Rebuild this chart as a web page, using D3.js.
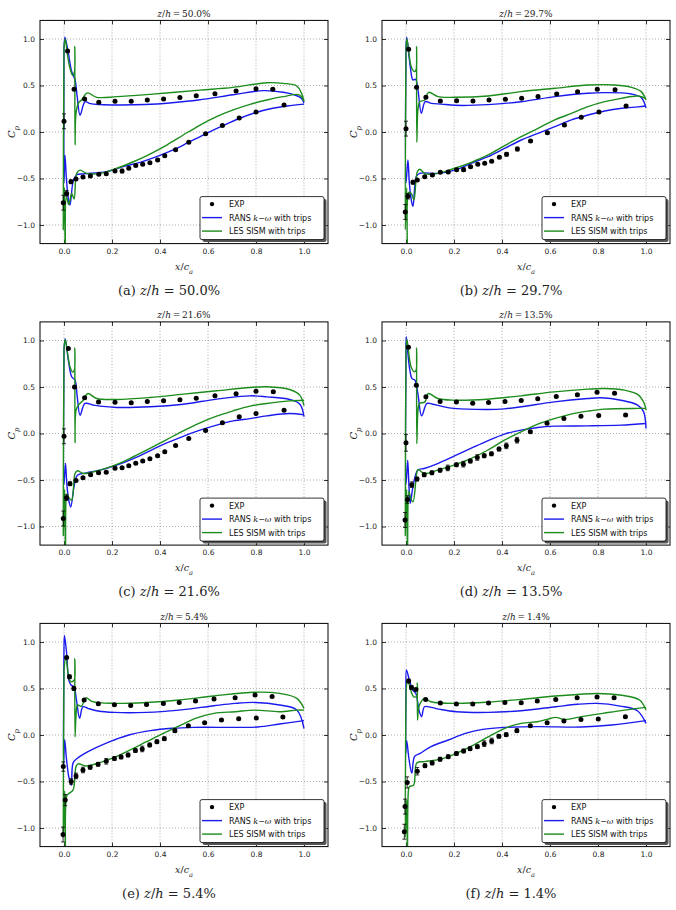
<!DOCTYPE html>
<html>
<head>
<meta charset="utf-8">
<script src="https://cdn.jsdelivr.net/npm/d3@7"></script>
<style>
body { margin: 0; background: #fff; }
.tick text { font-family: "DejaVu Sans", sans-serif; font-size: 7.5px; fill: #222; }
.serif { font-family: "DejaVu Serif", "Liberation Serif", serif; fill: #222; }
.leg { font-family: "DejaVu Sans", sans-serif; font-size: 8px; fill: #111; }
</style>
</head>
<body>
<script>
// panel labels
var panelLetters = ["(a)", "(b)", "(c)", "(d)", "(e)", "(f)"];
var panelHeights = ["50.0", "29.7", "21.6", "13.5", "5.4", "1.4"];
var xTicks = [0, 0.2, 0.4, 0.6, 0.8, 1.0];
var yTicks = [-1.0, -0.5, 0.0, 0.5, 1.0];

// EXP points [x/c, Cp, error], pressure side (upper branch)
var expPressure = [
  [[0.015,0.87,0.01],[0.042,0.46,0.01],[0.086,0.355,0.01],[0.145,0.32,0.01],[0.2125,0.33,0.01],[0.28,0.33,0.01],[0.347,0.344,0.01],[0.415,0.355,0.01],[0.483,0.37,0.01],[0.551,0.39,0.01],[0.629,0.41,0.01],[0.717,0.44,0.01],[0.80,0.465,0.01],[0.87,0.46,0.01]],
  [[0.011,0.89,0.01],[0.044,0.48,0.01],[0.083,0.373,0.01],[0.143,0.333,0.01],[0.211,0.337,0.01],[0.279,0.333,0.01],[0.346,0.344,0.01],[0.414,0.351,0.01],[0.482,0.362,0.01],[0.55,0.383,0.01],[0.628,0.409,0.01],[0.715,0.434,0.01],[0.797,0.459,0.01],[0.871,0.455,0.01]],
  [[0.018,0.914,0.01],[0.044,0.50,0.01],[0.086,0.384,0.01],[0.144,0.34,0.01],[0.2125,0.337,0.01],[0.28,0.33,0.01],[0.347,0.344,0.01],[0.415,0.351,0.01],[0.483,0.362,0.01],[0.551,0.38,0.01],[0.629,0.405,0.01],[0.717,0.427,0.01],[0.80,0.455,0.01],[0.872,0.448,0.01]],
  [[0.01,0.928,0.01],[0.043,0.52,0.01],[0.083,0.394,0.01],[0.142,0.344,0.01],[0.21,0.34,0.01],[0.278,0.326,0.01],[0.344,0.333,0.01],[0.4125,0.344,0.01],[0.48,0.355,0.01],[0.549,0.373,0.01],[0.626,0.398,0.01],[0.714,0.416,0.01],[0.796,0.444,0.01],[0.869,0.434,0.01]],
  [[0.011,0.834,0.01],[0.023,0.626,0.02],[0.041,0.5,0.02],[0.084,0.376,0.01],[0.143,0.336,0.01],[0.21,0.326,0.01],[0.278,0.318,0.01],[0.344,0.329,0.01],[0.414,0.34,0.01],[0.48,0.35,0.01],[0.548,0.365,0.01],[0.625,0.386,0.01],[0.713,0.40,0.01],[0.796,0.43,0.01],[0.867,0.415,0.01]],
  [[0.011,0.58,0.02],[0.023,0.51,0.02],[0.041,0.49,0.01],[0.082,0.383,0.01],[0.143,0.343,0.01],[0.21,0.333,0.01],[0.278,0.333,0.01],[0.344,0.343,0.01],[0.412,0.35,0.01],[0.48,0.347,0.01],[0.547,0.365,0.01],[0.624,0.383,0.01],[0.713,0.40,0.01],[0.796,0.408,0.01],[0.867,0.40,0.01]]
];

// EXP points, suction side (lower branch) and leading edge
var expSuction = [
  [[0.0,0.115,0.08],[-0.003,-0.76,0.08],[0.011,-0.66,0.03],[0.029,-0.535,0.02],[0.05,-0.505,0.01],[0.079,-0.485,0.01],[0.11,-0.473,0.01],[0.145,-0.455,0.01],[0.176,-0.448,0.01],[0.2125,-0.42,0.01],[0.242,-0.42,0.02],[0.27,-0.39,0.01],[0.299,-0.36,0.01],[0.328,-0.347,0.01],[0.358,-0.33,0.01],[0.39,-0.30,0.01],[0.42,-0.255,0.01],[0.465,-0.19,0.01],[0.52,-0.11,0.01],[0.59,-0.02,0.01],[0.66,0.07,0.01],[0.73,0.15,0.01],[0.80,0.215,0.01],[0.917,0.29,0.01]],
  [[0.0,0.036,0.08],[-0.003,-0.86,0.08],[0.008,-0.69,0.03],[0.029,-0.54,0.02],[0.047,-0.516,0.01],[0.078,-0.48,0.01],[0.11,-0.462,0.01],[0.143,-0.434,0.01],[0.176,-0.43,0.01],[0.211,-0.405,0.01],[0.24,-0.405,0.02],[0.269,-0.373,0.01],[0.299,-0.348,0.01],[0.328,-0.337,0.01],[0.357,-0.315,0.01],[0.389,-0.272,0.01],[0.419,-0.24,0.02],[0.464,-0.183,0.02],[0.519,-0.097,0.01],[0.589,-0.007,0.01],[0.66,0.075,0.01],[0.73,0.158,0.01],[0.804,0.215,0.01],[0.917,0.28,0.01]],
  [[0.0,-0.03,0.08],[-0.003,-0.914,0.08],[0.01,-0.69,0.03],[0.025,-0.54,0.02],[0.05,-0.505,0.01],[0.079,-0.477,0.01],[0.111,-0.444,0.01],[0.144,-0.423,0.01],[0.176,-0.416,0.01],[0.2125,-0.373,0.01],[0.242,-0.369,0.01],[0.27,-0.348,0.01],[0.299,-0.319,0.01],[0.328,-0.297,0.01],[0.358,-0.272,0.01],[0.39,-0.24,0.01],[0.42,-0.197,0.01],[0.465,-0.129,0.01],[0.52,-0.054,0.01],[0.59,0.032,0.01],[0.66,0.115,0.01],[0.73,0.18,0.01],[0.80,0.215,0.01],[0.917,0.25,0.01]],
  [[0.0,-0.1,0.09],[-0.004,-0.93,0.08],[0.006,-0.71,0.04],[0.024,-0.55,0.03],[0.046,-0.49,0.02],[0.076,-0.444,0.02],[0.108,-0.423,0.02],[0.142,-0.394,0.02],[0.174,-0.37,0.03],[0.21,-0.337,0.02],[0.239,-0.33,0.03],[0.268,-0.297,0.02],[0.297,-0.258,0.03],[0.326,-0.24,0.02],[0.356,-0.219,0.02],[0.3875,-0.168,0.02],[0.418,-0.133,0.03],[0.4625,-0.072,0.03],[0.518,0.02,0.01],[0.5875,0.11,0.01],[0.658,0.16,0.01],[0.729,0.186,0.01],[0.803,0.194,0.01],[0.915,0.2,0.01]],
  [[-0.003,-0.34,0.05],[-0.004,-1.07,0.08],[0.005,-0.70,0.06],[0.03,-0.5,0.03],[0.05,-0.44,0.03],[0.079,-0.376,0.03],[0.109,-0.347,0.02],[0.142,-0.315,0.02],[0.176,-0.283,0.03],[0.21,-0.254,0.02],[0.238,-0.236,0.02],[0.267,-0.215,0.02],[0.2975,-0.168,0.02],[0.326,-0.15,0.03],[0.357,-0.107,0.02],[0.387,-0.072,0.02],[0.418,-0.039,0.02],[0.462,0.047,0.02],[0.518,0.1,0.01],[0.586,0.132,0.01],[0.656,0.161,0.01],[0.728,0.175,0.01],[0.801,0.182,0.01],[0.912,0.193,0.01]],
  [[-0.007,-1.04,0.08],[-0.004,-0.77,0.08],[0.005,-0.51,0.06],[0.047,-0.39,0.04],[0.079,-0.33,0.02],[0.109,-0.30,0.02],[0.142,-0.26,0.02],[0.176,-0.233,0.02],[0.21,-0.2,0.02],[0.24,-0.172,0.02],[0.267,-0.147,0.02],[0.2975,-0.125,0.02],[0.326,-0.093,0.03],[0.357,-0.064,0.03],[0.387,-0.014,0.02],[0.4175,0.004,0.02],[0.462,0.047,0.02],[0.518,0.1,0.01],[0.588,0.132,0.01],[0.658,0.15,0.01],[0.729,0.168,0.01],[0.801,0.172,0.01],[0.914,0.197,0.01]]
];

// RANS k-omega, pressure side
var ransPressure = [
  [[0.0,0.9],[0.004,1.02],[0.018,0.85],[0.032,0.65],[0.046,0.56],[0.055,0.38],[0.067,0.18],[0.0875,0.325],[0.11,0.305],[0.15,0.295],[0.22,0.29],[0.34,0.295],[0.45,0.315],[0.56,0.344],[0.705,0.40],[0.83,0.445],[0.914,0.427],[0.965,0.395],[0.99,0.36],[1.0,0.31]],
  [[0.0,0.9],[0.003,1.02],[0.018,0.70],[0.029,0.56],[0.04,0.566],[0.05,0.45],[0.064,0.2],[0.08,0.326],[0.106,0.308],[0.147,0.30],[0.203,0.287],[0.342,0.294],[0.48,0.326],[0.62,0.38],[0.758,0.416],[0.828,0.423],[0.939,0.409],[0.98,0.37],[1.0,0.26]],
  [[0.0,0.9],[0.005,1.02],[0.018,0.79],[0.032,0.61],[0.046,0.573],[0.055,0.4],[0.067,0.197],[0.0875,0.323],[0.122,0.305],[0.15,0.294],[0.22,0.28],[0.358,0.287],[0.497,0.315],[0.636,0.37],[0.775,0.405],[0.845,0.394],[0.94,0.366],[0.983,0.315],[1.0,0.18]],
  [[0.0,0.9],[0.001,1.04],[0.014,0.717],[0.025,0.59],[0.0375,0.573],[0.05,0.42],[0.065,0.19],[0.0875,0.323],[0.111,0.315],[0.146,0.294],[0.2,0.27],[0.34,0.258],[0.41,0.265],[0.48,0.287],[0.618,0.34],[0.757,0.376],[0.8125,0.384],[0.896,0.358],[0.965,0.305],[0.99,0.233],[1.0,0.054]],
  [[0.0,0.95],[0.002,1.07],[0.011,0.877],[0.02,0.59],[0.029,0.537],[0.041,0.52],[0.052,0.376],[0.065,0.18],[0.079,0.304],[0.1,0.286],[0.142,0.258],[0.21,0.243],[0.344,0.243],[0.48,0.268],[0.625,0.315],[0.713,0.34],[0.796,0.35],[0.898,0.322],[0.97,0.268],[1.0,0.07]],
  [[0.0,0.5],[0.002,0.70],[0.014,0.59],[0.029,0.48],[0.041,0.447],[0.054,0.27],[0.065,0.197],[0.077,0.304],[0.104,0.297],[0.143,0.275],[0.21,0.25],[0.344,0.243],[0.48,0.261],[0.624,0.304],[0.713,0.33],[0.796,0.34],[0.892,0.311],[0.964,0.261],[1.0,0.125]]
];

// RANS k-omega, suction side
var ransSuction = [
  [[0.0,0.9],[0.0,-0.55],[0.004,-0.25],[0.01,-0.5],[0.018,-0.72],[0.025,-0.785],[0.039,-0.52],[0.053,-0.46],[0.08,-0.45],[0.178,-0.426],[0.247,-0.373],[0.317,-0.326],[0.386,-0.265],[0.455,-0.193],[0.52,-0.11],[0.59,-0.02],[0.66,0.065],[0.73,0.145],[0.80,0.21],[0.87,0.255],[0.93,0.28],[1.0,0.30]],
  [[0.0,0.9],[0.0,-0.55],[0.008,-0.3],[0.014,-0.55],[0.022,-0.73],[0.029,-0.8],[0.043,-0.48],[0.057,-0.445],[0.133,-0.445],[0.203,-0.41],[0.272,-0.337],[0.342,-0.265],[0.411,-0.176],[0.48,-0.086],[0.55,-0.014],[0.62,0.057],[0.689,0.13],[0.758,0.183],[0.828,0.226],[0.9,0.255],[0.967,0.27],[1.0,0.28]],
  [[0.0,0.9],[0.0,-0.55],[0.006,-0.32],[0.012,-0.55],[0.02,-0.72],[0.028,-0.79],[0.042,-0.57],[0.056,-0.448],[0.094,-0.423],[0.15,-0.394],[0.22,-0.34],[0.289,-0.27],[0.358,-0.186],[0.428,-0.1],[0.497,-0.03],[0.567,0.036],[0.636,0.09],[0.705,0.136],[0.775,0.16],[0.845,0.19],[0.94,0.215],[1.0,0.2]],
  [[0.0,0.9],[0.0,-0.55],[0.007,-0.287],[0.012,-0.55],[0.018,-0.75],[0.029,-0.573],[0.049,-0.394],[0.076,-0.376],[0.132,-0.323],[0.2,-0.244],[0.27,-0.161],[0.34,-0.079],[0.41,-0.007],[0.479,0.036],[0.549,0.065],[0.618,0.079],[0.757,0.082],[0.896,0.09],[1.0,0.108]],
  [[0.0,0.95],[-0.002,-0.35],[0.003,-0.05],[0.01,-0.25],[0.02,-0.45],[0.03,-0.54],[0.038,-0.30],[0.056,-0.25],[0.1,-0.18],[0.181,-0.082],[0.27,0.0],[0.36,0.047],[0.45,0.072],[0.54,0.082],[0.72,0.082],[0.808,0.086],[0.898,0.118],[1.0,0.154]],
  [[0.0,0.5],[-0.001,-0.2],[0.003,-0.06],[0.012,-0.25],[0.024,-0.41],[0.036,-0.23],[0.059,-0.197],[0.104,-0.125],[0.176,-0.054],[0.247,0.018],[0.319,0.061],[0.409,0.082],[0.552,0.09],[0.731,0.086],[0.857,0.107],[1.0,0.154]]
];

// LES SISM, pressure side
var lesPressure = [
  [[0.0,0.9],[0.005,1.0],[0.015,0.82],[0.025,0.685],[0.036,0.61],[0.043,0.64],[0.045,0.92],[0.046,-0.14],[0.05,0.2],[0.06,0.31],[0.075,0.35],[0.097,0.42],[0.136,0.373],[0.22,0.38],[0.358,0.405],[0.567,0.45],[0.705,0.48],[0.845,0.53],[0.914,0.523],[0.97,0.495],[0.99,0.415],[1.0,0.33]],
  [[0.0,0.9],[0.004,1.0],[0.022,0.70],[0.036,0.65],[0.042,0.67],[0.044,0.92],[0.045,-0.11],[0.05,0.25],[0.057,0.326],[0.078,0.344],[0.094,0.426],[0.133,0.38],[0.203,0.373],[0.342,0.387],[0.48,0.434],[0.62,0.47],[0.758,0.505],[0.87,0.505],[0.939,0.48],[0.98,0.434],[1.0,0.344]],
  [[0.0,0.9],[0.005,1.01],[0.025,0.717],[0.036,0.66],[0.043,0.68],[0.045,0.92],[0.046,-0.1],[0.05,0.25],[0.06,0.305],[0.08,0.358],[0.099,0.43],[0.136,0.376],[0.22,0.366],[0.358,0.387],[0.497,0.423],[0.636,0.459],[0.775,0.495],[0.845,0.502],[0.94,0.473],[0.983,0.41],[1.0,0.3]],
  [[0.0,0.9],[0.004,1.01],[0.021,0.717],[0.035,0.663],[0.042,0.68],[0.044,0.92],[0.045,-0.11],[0.05,0.25],[0.056,0.323],[0.079,0.34],[0.093,0.43],[0.132,0.376],[0.2,0.358],[0.34,0.369],[0.479,0.405],[0.618,0.448],[0.757,0.477],[0.826,0.484],[0.91,0.466],[0.965,0.42],[0.993,0.323],[1.0,0.25]],
  [[0.0,0.7],[0.008,0.84],[0.018,0.645],[0.028,0.573],[0.038,0.58],[0.044,0.6],[0.045,0.82],[0.046,-0.02],[0.05,0.2],[0.056,0.322],[0.073,0.31],[0.091,0.40],[0.118,0.358],[0.21,0.34],[0.344,0.35],[0.48,0.376],[0.625,0.42],[0.796,0.46],[0.898,0.447],[0.97,0.394],[1.0,0.286]],
  [[0.0,0.45],[0.007,0.59],[0.02,0.48],[0.032,0.41],[0.045,0.42],[0.047,0.56],[0.048,0.16],[0.052,0.28],[0.059,0.34],[0.077,0.394],[0.104,0.358],[0.21,0.34],[0.344,0.354],[0.48,0.383],[0.624,0.419],[0.796,0.447],[0.892,0.43],[0.973,0.376],[1.0,0.268]]
];

// LES SISM, suction side
var lesSuction = [
  [[0.0,0.9],[-0.003,-1.05],[0.002,-0.6],[0.005,-1.3],[0.01,-0.7],[0.02,-0.78],[0.032,-0.66],[0.042,-0.72],[0.053,-0.445],[0.067,-0.41],[0.094,-0.445],[0.15,-0.445],[0.22,-0.39],[0.289,-0.32],[0.358,-0.237],[0.428,-0.14],[0.497,-0.032],[0.567,0.075],[0.636,0.165],[0.705,0.237],[0.775,0.297],[0.845,0.344],[0.914,0.38],[0.98,0.40],[1.0,0.33]],
  [[0.0,0.9],[-0.003,-1.05],[0.003,-0.6],[0.006,-1.3],[0.012,-0.65],[0.022,-0.66],[0.033,-0.73],[0.047,-0.427],[0.057,-0.40],[0.08,-0.45],[0.133,-0.445],[0.203,-0.39],[0.272,-0.326],[0.342,-0.247],[0.411,-0.147],[0.48,-0.05],[0.55,0.04],[0.62,0.13],[0.689,0.2],[0.758,0.272],[0.828,0.326],[0.897,0.362],[0.967,0.387],[1.0,0.36]],
  [[0.0,0.9],[-0.003,-1.1],[0.003,-0.6],[0.006,-1.3],[0.012,-0.65],[0.018,-0.68],[0.032,-0.717],[0.046,-0.43],[0.056,-0.4],[0.08,-0.43],[0.15,-0.394],[0.22,-0.333],[0.289,-0.25],[0.358,-0.16],[0.428,-0.065],[0.497,0.029],[0.567,0.115],[0.636,0.186],[0.705,0.244],[0.775,0.294],[0.845,0.323],[0.94,0.351],[1.0,0.358]],
  [[0.0,0.9],[-0.003,-1.1],[0.003,-0.6],[0.006,-1.3],[0.012,-0.62],[0.018,-0.68],[0.029,-0.735],[0.046,-0.41],[0.051,-0.387],[0.076,-0.43],[0.132,-0.394],[0.2,-0.34],[0.27,-0.27],[0.34,-0.18],[0.41,-0.072],[0.479,0.018],[0.549,0.1],[0.618,0.16],[0.6875,0.208],[0.757,0.24],[0.826,0.262],[0.965,0.27],[1.0,0.27]],
  [[0.0,0.7],[-0.003,-1.1],[0.003,-0.6],[0.006,-1.3],[0.012,-0.65],[0.02,-0.63],[0.038,-0.59],[0.05,-0.34],[0.059,-0.31],[0.091,-0.333],[0.145,-0.30],[0.21,-0.24],[0.27,-0.168],[0.344,-0.072],[0.414,0.018],[0.48,0.097],[0.548,0.179],[0.625,0.233],[0.713,0.25],[0.796,0.268],[0.898,0.25],[0.97,0.268],[1.0,0.268]],
  [[0.0,0.45],[-0.003,-1.1],[0.003,-0.7],[0.006,-1.3],[0.01,-0.6],[0.014,-0.555],[0.032,-0.537],[0.045,-0.30],[0.077,-0.286],[0.143,-0.26],[0.21,-0.197],[0.283,-0.107],[0.344,-0.018],[0.412,0.072],[0.48,0.125],[0.547,0.143],[0.588,0.168],[0.624,0.19],[0.66,0.168],[0.731,0.197],[0.82,0.233],[0.91,0.268],[1.0,0.297]]
];

var ransColor = "#1a1aee", lesColor = "#1c8c1c";

var w = 676, h = 910;
var pw = 288, ph = 223.2;
var colLeft = [40, 382];
var rowTop = [20.4, 321.9, 623.4];

var svg = d3.select("body").append("svg")
    .attr("width", w)
    .attr("height", h)
    .style("background", "#fff");

var x = d3.scaleLinear().domain([-0.1, 1.1]).range([0, pw]);
var y = d3.scaleLinear().domain([-1.2, 1.2]).range([ph, 0]);

var line = d3.line()
    .x(function(d){ return x(d[0]); })
    .y(function(d){ return y(d[1]); })
    .curve(d3.curveCatmullRom.alpha(0.5));

// writes mixed italic / upright text as tspans
function mathText(sel, parts){
    parts.forEach(function(p){
        var t = sel.append("tspan").text(p[0]);
        if (p[1]) t.style("font-style", "italic");
        if (p[2]) t.attr("baseline-shift", "sub").style("font-size", "70%");
    });
    return sel;
}

panelHeights.forEach(function(zh, i){
    var g = svg.append("g")
        .attr("class", "panel")
        .attr("transform", "translate(" + colLeft[i % 2] + "," + rowTop[Math.floor(i / 2)] + ")");

    g.append("clipPath").attr("id", "clip" + i)
        .append("rect").attr("width", pw).attr("height", ph);

    //dotted grid
    g.selectAll(".vgrid").data(xTicks).enter().append("line")
        .attr("class", "vgrid")
        .attr("x1", function(d){ return x(d); }).attr("x2", function(d){ return x(d); })
        .attr("y1", 0).attr("y2", ph)
        .style("stroke", "#777").style("stroke-width", 0.6).style("stroke-dasharray", "1,2");
    g.selectAll(".hgrid").data(yTicks).enter().append("line")
        .attr("class", "hgrid")
        .attr("y1", function(d){ return y(d); }).attr("y2", function(d){ return y(d); })
        .attr("x1", 0).attr("x2", pw)
        .style("stroke", "#777").style("stroke-width", 0.6).style("stroke-dasharray", "1,2");

    //axes with inward ticks on all sides
    var fmt = d3.format(".1f");
    g.append("g").attr("transform", "translate(0," + ph + ")")
        .call(d3.axisBottom(x).tickValues(xTicks).tickFormat(fmt).tickSize(-4).tickPadding(5));
    g.append("g")
        .call(d3.axisTop(x).tickValues(xTicks).tickFormat("").tickSize(-4));
    g.append("g")
        .call(d3.axisLeft(y).tickValues(yTicks).tickFormat(fmt).tickSize(-4).tickPadding(5));
    g.append("g").attr("transform", "translate(" + pw + ",0)")
        .call(d3.axisRight(y).tickValues(yTicks).tickFormat("").tickSize(-4));
    g.selectAll(".domain").remove();
    g.selectAll(".tick line").style("stroke", "#000").style("stroke-width", 0.8);

    //model curves
    var curves = g.append("g").attr("clip-path", "url(#clip" + i + ")");
    [[ransPressure, ransColor], [ransSuction, ransColor], [lesPressure, lesColor], [lesSuction, lesColor]]
        .forEach(function(s){
            curves.append("path")
                .datum(s[0][i])
                .attr("d", line)
                .style("fill", "none")
                .style("stroke", s[1])
                .style("stroke-width", 1.4)
                .style("stroke-linejoin", "round");
        });

    //experiment with error bars
    var pts = expPressure[i].concat(expSuction[i]);
    var bars = g.append("g").selectAll(".err").data(pts).enter().append("g").attr("class", "err");
    bars.append("line")
        .attr("x1", function(d){ return x(d[0]); }).attr("x2", function(d){ return x(d[0]); })
        .attr("y1", function(d){ return y(d[1] - d[2]); }).attr("y2", function(d){ return y(d[1] + d[2]); })
        .style("stroke", "#000").style("stroke-width", 0.8);
    [-1, 1].forEach(function(sgn){
        bars.append("line")
            .attr("x1", function(d){ return x(d[0]) - 2; }).attr("x2", function(d){ return x(d[0]) + 2; })
            .attr("y1", function(d){ return y(d[1] + sgn * d[2]); }).attr("y2", function(d){ return y(d[1] + sgn * d[2]); })
            .style("stroke", "#000").style("stroke-width", 0.8);
    });
    g.append("g").selectAll("circle").data(pts).enter().append("circle")
        .attr("cx", function(d){ return x(d[0]); })
        .attr("cy", function(d){ return y(d[1]); })
        .attr("r", 2.5)
        .style("fill", "#000");

    //frame
    g.append("rect").attr("width", pw).attr("height", ph)
        .style("fill", "none").style("stroke", "#000").style("stroke-width", 1);

    //legend
    var lg = g.append("g").attr("transform", "translate(" + (pw - 128) + "," + (ph - 47) + ")");
    lg.append("rect").attr("x", 2.5).attr("y", 2.5).attr("width", 124).attr("height", 43).attr("rx", 2)
        .style("fill", "#555");
    lg.append("rect").attr("width", 124).attr("height", 43).attr("rx", 2)
        .style("fill", "#fff").style("stroke", "#000").style("stroke-width", 0.8);
    lg.append("circle").attr("cx", 12).attr("cy", 7.5).attr("r", 2.2).style("fill", "#000");
    lg.append("text").attr("class", "leg").attr("x", 29).attr("y", 10.5).text("EXP");
    lg.append("line").attr("x1", 2).attr("x2", 22).attr("y1", 21).attr("y2", 21)
        .style("stroke", ransColor).style("stroke-width", 1.4);
    var t2 = lg.append("text").attr("class", "leg").attr("x", 29).attr("y", 24);
    t2.append("tspan").text("RANS ");
    t2.append("tspan").text("k−ω").style("font-family", "'DejaVu Serif', serif").style("font-style", "italic").style("font-size", "8px");
    t2.append("tspan").text(" with trips");
    lg.append("line").attr("x1", 2).attr("x2", 22).attr("y1", 34.5).attr("y2", 34.5)
        .style("stroke", lesColor).style("stroke-width", 1.4);
    lg.append("text").attr("class", "leg").attr("x", 29).attr("y", 37.5).text("LES SISM with trips");

    //title
    mathText(g.append("text").attr("class", "serif")
        .attr("x", pw / 2).attr("y", -3.5).attr("text-anchor", "middle").style("font-size", "9px"),
        [["z", 1], ["/"], ["h", 1], ["\u2009=\u2009" + zh + "%"]]);

    //axis labels
    mathText(g.append("text").attr("class", "serif")
        .attr("x", pw / 2).attr("y", ph + 26).attr("text-anchor", "middle").style("font-size", "9.5px"),
        [["x", 1], ["/"], ["c", 1], ["a", 1, 1]]);
    mathText(g.append("text").attr("class", "serif")
        .attr("transform", "translate(-25," + (ph / 2) + ") rotate(-90)")
        .attr("text-anchor", "middle").style("font-size", "10px"),
        [["C", 1], ["p", 1, 1]]);

    //caption
    mathText(g.append("text").attr("class", "serif")
        .attr("x", pw / 2 - 15).attr("y", ph + 51).attr("text-anchor", "middle").style("font-size", "13px"),
        [[panelLetters[i] + " "], ["z", 1], ["/"], ["h", 1], [" = " + zh + "%"]]);
});
</script>
</body>
</html>
